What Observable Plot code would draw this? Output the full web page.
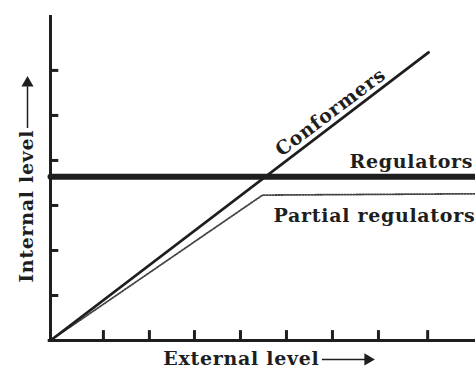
<!DOCTYPE html>
<html><head><meta charset="utf-8">
<script src="https://cdn.jsdelivr.net/npm/d3@7"></script>
<script src="https://cdn.jsdelivr.net/npm/@observablehq/plot@0.6"></script>
<style>body{margin:0;background:#fff} svg text{letter-spacing:0.7px}</style>
</head><body><div id="chart"></div>
<script>
// Tick positions (unlabelled) in axis units
const xTicks = [1.15, 2.15, 3.13, 4.13, 5.13, 6.13, 7.13, 8.2];
const yTicks = [1, 2, 3, 4, 5, 6];
// Series (external level -> internal level)
const conformersX = [0, 8.22];
const conformersY = [0, 6.4];
const regulatorsX = [0, 9.3];
const regulatorsY = [3.64, 3.64];
const partialX = [0, 4.61, 9.3];
const partialY = [0, 3.23, 3.26];
// Texts
const seriesLabels = ["Conformers", "Regulators", "Partial regulators"];
const axisLabels = ["External level", "Internal level"];

const pts = (xs, ys) => d3.zip(xs, ys);
const font = {fontFamily: "DejaVu Serif", fontWeight: "bold", fontSize: 19, fill: "#1e1e1e"};
const ink = "#1e1e1e";

const chart = Plot.plot({
  width: 475, height: 371,
  marginLeft: 50, marginRight: 0, marginTop: 15, marginBottom: 31,
  x: {domain: [0, 9.24], axis: null},
  y: {domain: [0, 7.22], axis: null},
  style: {background: "#fff", overflow: "hidden"},
  marks: [
    // axes
    Plot.ruleX([0], {y1: 0, y2: 7.22, stroke: ink, strokeWidth: 3}),
    Plot.ruleY([0], {x1: -0.05, x2: 9.24, stroke: ink, strokeWidth: 3}),
    Plot.ruleY(yTicks, {y: d => d, x1: 0, x2: 0.18, stroke: ink, strokeWidth: 3}),
    Plot.ruleX(xTicks, {x: d => d, y1: 0, y2: 0.22, stroke: ink, strokeWidth: 3}),
    // series
    Plot.line(pts(partialX, partialY), {x: d => d[0], y: d => d[1], stroke: "#444", strokeWidth: 1.8, strokeDasharray: "1.5,1.5"}),
    Plot.line(pts(conformersX, conformersY), {x: d => d[0], y: d => d[1], stroke: ink, strokeWidth: 2.8}),
    Plot.line(pts(regulatorsX, regulatorsY), {x: d => d[0], y: d => d[1], stroke: ink, strokeWidth: 6}),
    // series labels
    Plot.text([seriesLabels[0]], {x: 6.09, y: 5.07, text: d => d, rotate: -37, ...font}),
    Plot.text([seriesLabels[1]], {x: 6.5, y: 3.96, text: d => d, textAnchor: "start", ...font}),
    Plot.text([seriesLabels[2]], {x: 4.85, y: 2.76, text: d => d, textAnchor: "start", ...font}),
    // axis labels with arrows
    Plot.text([axisLabels[0]], {x: 4.15, y: -0.42, text: d => d, ...font}),
    Plot.link([0], {x1: 5.9, x2: 6.85, y1: -0.42, y2: -0.42, stroke: ink, strokeWidth: 1.5}),
    Plot.dot([0], {x: 6.9, y: -0.42, symbol: "triangle", r: 4.5, fill: ink, stroke: null, rotate: 90}),
    Plot.text([axisLabels[1]], {x: -0.52, y: 2.98, text: d => d, rotate: -90, ...font}),
    Plot.link([0], {x1: -0.5, x2: -0.5, y1: 4.72, y2: 5.65, stroke: ink, strokeWidth: 1.5}),
    Plot.dot([0], {x: -0.5, y: 5.72, symbol: "triangle", r: 4.5, fill: ink, stroke: null, rotate: 0})
  ]
});
document.getElementById("chart").appendChild(chart);
</script>
</body></html>
